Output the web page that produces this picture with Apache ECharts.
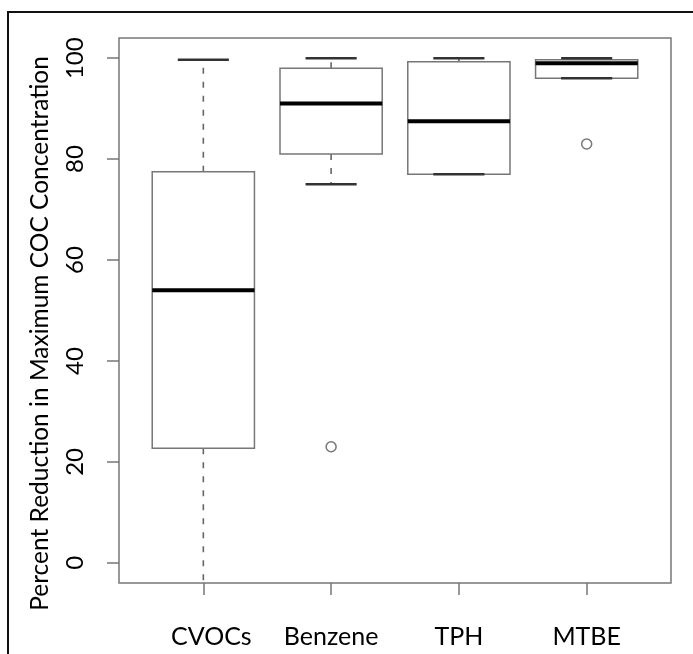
<!DOCTYPE html>
<html>
<head>
<meta charset="utf-8">
<script src="https://cdn.jsdelivr.net/npm/echarts@6/dist/echarts.min.js"></script>
<style>
  html, body { margin: 0; padding: 0; background: #fff; }
  #frame { position: absolute; left: 7px; top: 11px; width: 700px; height: 700px;
           border-left: 2px solid #111; border-top: 2px solid #111; box-sizing: border-box; }
  #chart { position: absolute; left: 0; top: 0; width: 693px; height: 654px; }
</style>
</head>
<body>
<div id="frame"></div>
<div id="chart"></div>
<script>
// ---- data ----
const categories   = ['CVOCs', 'Benzene', 'TPH', 'MTBE'];
const whiskerLow   = [-20, 75.0, 77.0, 96.0];
const quartile1    = [22.7, 81.0, 77.0, 96.0];
const medians      = [54.0, 91.0, 87.5, 99.0];
const quartile3    = [77.5, 98.0, 99.3, 99.7];
const whiskerHigh  = [99.7, 100, 100, 100];
const outlierCat   = [2, 4];
const outlierVal   = [23.0, 83.0];
const yTicks       = [0, 20, 40, 60, 80, 100];
const xTicks       = [1, 2, 3, 4];

const FONT = 'Lato';
const boxData = categories.map((c, i) => [i + 1, whiskerLow[i], quartile1[i], medians[i], quartile3[i], whiskerHigh[i]]);
const outlierData = outlierCat.map((c, i) => [c, outlierVal[i]]);

const chart = echarts.init(document.getElementById('chart'), null, { renderer: 'canvas' });

function renderBox(params, api) {
  const x = api.value(0);
  const lo = api.coord([x, api.value(1)]);
  const q1 = api.coord([x, api.value(2)]);
  const md = api.coord([x, api.value(3)]);
  const q3 = api.coord([x, api.value(4)]);
  const hi = api.coord([x, api.value(5)]);
  const boxW = api.size([0.8, 0])[0];
  const capW = api.size([0.4, 0])[0];
  const cx = md[0];
  const dash = { stroke: '#666', lineWidth: 1.6, lineDash: [6, 8] };
  const cap = { stroke: '#333', lineWidth: 2.5 };
  return {
    type: 'group',
    children: [
      { type: 'line', shape: { x1: cx, y1: q3[1], x2: cx, y2: hi[1] }, style: dash },
      { type: 'line', shape: { x1: cx, y1: q1[1], x2: cx, y2: lo[1] }, style: dash },
      { type: 'rect', shape: { x: cx - boxW / 2, y: q3[1], width: boxW, height: q1[1] - q3[1] },
        style: { fill: 'rgba(0,0,0,0)', stroke: '#777', lineWidth: 1.5 } },
      { type: 'line', shape: { x1: cx - capW / 2, y1: hi[1], x2: cx + capW / 2, y2: hi[1] }, style: cap },
      { type: 'line', shape: { x1: cx - capW / 2, y1: lo[1], x2: cx + capW / 2, y2: lo[1] }, style: cap },
      { type: 'line', shape: { x1: cx - boxW / 2, y1: md[1], x2: cx + boxW / 2, y2: md[1] },
        style: { stroke: '#000', lineWidth: 4 } }
    ]
  };
}

chart.setOption({
  animation: false,
  backgroundColor: 'transparent',
  grid: { left: 119, right: 22, top: 38, bottom: 71, show: true, borderColor: '#777', borderWidth: 1.5, backgroundColor: 'transparent' },
  xAxis: {
    type: 'value', min: 0.34, max: 4.66,
    axisLine: { show: false, onZero: false },
    splitLine: { show: false },
    axisTick: { show: true, inside: false, length: 12, customValues: xTicks, lineStyle: { color: '#777', width: 1.5 } },
    axisLabel: {
      customValues: xTicks, margin: 41, fontFamily: FONT, fontSize: 25, color: '#000',
      formatter: v => (v === 1 ? '{p|' + categories[0] + '}' : categories[Math.round(v) - 1]),
      rich: { p: { padding: [0, 0, 0, 16], fontFamily: FONT, fontSize: 25, color: '#000' } }
    }
  },
  yAxis: {
    type: 'value', min: -4, max: 104,
    name: 'Percent Reduction in Maximum COC Concentration',
    nameLocation: 'middle', nameRotate: 90, nameGap: 66,
    nameTextStyle: { fontFamily: FONT, fontSize: 24.5, color: '#000', padding: [0, 46, 0, 0] },
    axisLine: { show: false, onZero: false },
    splitLine: { show: false },
    axisTick: { show: true, inside: false, length: 12, customValues: yTicks, lineStyle: { color: '#777', width: 1.5 } },
    axisLabel: { customValues: yTicks, rotate: 90, margin: 32, fontFamily: FONT, fontSize: 24, color: '#000' }
  },
  series: [
    { type: 'custom', renderItem: renderBox, data: boxData, clip: true, encode: { x: 0, y: [1, 2, 3, 4, 5] } },
    { type: 'scatter', data: outlierData, symbol: 'circle', symbolSize: 10, z: 5,
      itemStyle: { color: 'rgba(255,255,255,0)', borderColor: '#555', borderWidth: 1.5 } }
  ]
});
</script>
</body>
</html>
